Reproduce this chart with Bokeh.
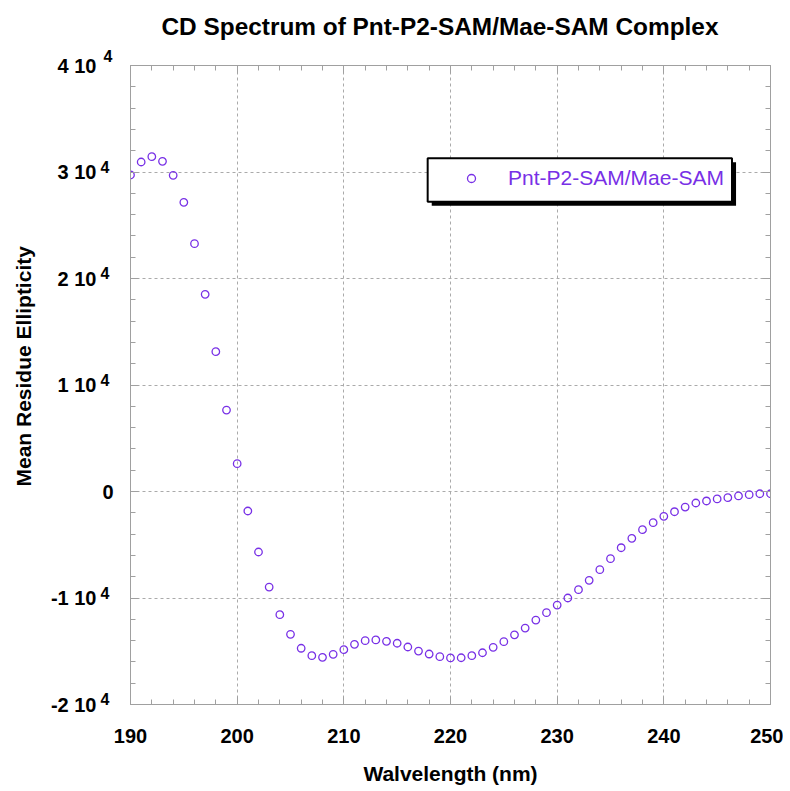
from bokeh.plotting import figure
from bokeh.models import (Range1d, FixedTicker, LinearAxis, CustomJSTickFormatter,
                          BoxAnnotation, Legend, LegendItem, Title)
from bokeh.embed import file_html
from bokeh.resources import INLINE

# ---------------- data ----------------
wavelength = list(range(190, 251))
ellipticity = [
    29720, 30940, 31440, 31000, 29690, 27150, 23270, 18510, 13130, 7650,
    2610, -1830, -5680, -8970, -11570, -13410, -14720, -15420, -15570, -15290,
    -14850, -14350, -14010, -13940, -14070, -14250, -14600, -14980, -15260, -15510,
    -15630, -15610, -15420, -15140, -14630, -14100, -13460, -12820, -12070, -11380,
    -10660, -10000, -9220, -8340, -7340, -6310, -5280, -4400, -3580, -2930,
    -2330, -1900, -1460, -1080, -890, -700, -580, -420, -300, -210,
    -210,
]
x_ticks = [190, 200, 210, 220, 230, 240, 250]
x_minor_ticks = list(range(190, 251, 2))
y_ticks = [-20000, -10000, 0, 10000, 20000, 30000, 40000]
y_minor_ticks = list(range(-20000, 40001, 2000))
y_tick_labels = ["-2 10", "-1 10", "0", "1 10", "2 10", "3 10", "4 10"]
y_tick_exponents = ["4", "4", "", "4", "4", "4", "4"]
title_text = "CD Spectrum of Pnt-P2-SAM/Mae-SAM Complex"
x_label = "Walvelength (nm)"
y_label = "Mean Residue Ellipticity"
series_name = "Pnt-P2-SAM/Mae-SAM"

# ---------------- style ----------------
FONT = "Liberation Sans"
PURPLE = "#7830E6"
AXIS_GRAY = "#a0a0a0"
GRID_GRAY = "#aaaaaa"
Y_MIN, Y_MAX = -20000, 40000
SUP_SHIFT = 470   # ~5 px upward (label-only scale for the exponents)

p = figure(frame_width=640, frame_height=639,
           x_range=Range1d(190, 250), y_range=Range1d(Y_MIN, Y_MAX),
           output_backend="svg", toolbar_location=None,
           min_border_left=129, min_border_right=13,
           min_border_top=65, min_border_bottom=87,
           background_fill_color="white", border_fill_color="white",
           outline_line_color=None)
p.extra_y_ranges = {"sup": Range1d(Y_MIN - SUP_SHIFT, Y_MAX - SUP_SHIFT)}

p.title.text = title_text
p.title.text_font = FONT
p.title.text_font_size = "24.4px"
p.title.text_font_style = "bold"
p.title.align = "left"
p.title.offset = 31
p.title.text_color = "black"
p.title.standoff = 0

xt = FixedTicker(ticks=x_ticks, minor_ticks=x_minor_ticks)
yt = FixedTicker(ticks=y_ticks, minor_ticks=y_minor_ticks)
blank = CustomJSTickFormatter(code="return ''")

def style_axis(ax):
    ax.axis_line_color = AXIS_GRAY
    ax.axis_line_width = 1
    ax.major_tick_line_color = AXIS_GRAY
    ax.minor_tick_line_color = AXIS_GRAY
    ax.major_tick_in = 8
    ax.major_tick_out = 0
    ax.minor_tick_in = 5
    ax.minor_tick_out = 0
    ax.major_label_text_font = FONT
    ax.major_label_text_font_size = "20px"
    ax.major_label_text_font_style = "bold"
    ax.major_label_text_color = "black"
    ax.axis_label_text_font = FONT
    ax.axis_label_text_font_size = "21px"
    ax.axis_label_text_font_style = "bold"
    ax.axis_label_text_color = "black"

def hide_lines(ax):
    ax.axis_line_color = None
    ax.major_tick_line_color = None
    ax.minor_tick_line_color = None
    ax.major_tick_in = 0
    ax.minor_tick_in = 0
    ax.minor_tick_out = 0

xa = p.xaxis[0]
xa.ticker = xt
style_axis(xa)
xa.axis_label = x_label
xa.major_label_standoff = 24
xa.axis_label_standoff = 16

# inner y axis: ticks, line and the plain "0" label
ya = p.yaxis[0]
ya.ticker = yt
style_axis(ya)
ya.major_label_standoff = 17
ya.major_label_overrides = {t: (lab if not ex else "")
                            for t, lab, ex in zip(y_ticks, y_tick_labels, y_tick_exponents)}

# exponent part of "n 10^4" (the top one lies above the frame, see below)
sup_ax = LinearAxis(y_range_name="sup", ticker=yt)
style_axis(sup_ax)
hide_lines(sup_ax)
sup_ax.major_label_text_font_size = "16px"
sup_ax.major_label_standoff = -10
sup_ax.major_label_overrides = {t: ex for t, ex in zip(y_ticks, y_tick_exponents)}
p.add_layout(sup_ax, "left")

# mantissa part "n 10"
man_ax = LinearAxis(ticker=yt)
style_axis(man_ax)
hide_lines(man_ax)
man_ax.major_label_standoff = 1
man_ax.major_label_overrides = {t: (lab if ex else "")
                                for t, lab, ex in zip(y_ticks, y_tick_labels, y_tick_exponents)}
p.add_layout(man_ax, "left")

# y axis title
p.add_layout(Title(text=y_label, align="left", offset=218, vertical_align="top",
                   standoff=22, text_font=FONT, text_font_size="21px",
                   text_font_style="bold", text_color="black"), "left")

top_ax = LinearAxis(ticker=xt, formatter=blank, major_label_standoff=0)
right_ax = LinearAxis(ticker=yt, formatter=blank, major_label_standoff=0)
for ax in (top_ax, right_ax):
    style_axis(ax)
    ax.major_label_text_font_size = "0px"
p.add_layout(top_ax, "above")
p.add_layout(right_ax, "right")

# exponent of the top tick label (sits just above the frame)
p.add_layout(Title(text=y_tick_exponents[-1], align="left", offset=-27,
                   vertical_align="bottom", standoff=8,
                   text_font=FONT, text_font_size="16px",
                   text_font_style="bold", text_color="black"), "above")

# invisible spacer above the frame that lifts the title
spacer = LinearAxis(ticker=xt, formatter=blank, major_label_standoff=0)
hide_lines(spacer)
spacer.major_tick_out = 4
spacer.major_label_text_font_size = "0px"
p.add_layout(spacer, "above")

for g in (p.xgrid[0], p.ygrid[0]):
    g.grid_line_color = GRID_GRAY
    g.grid_line_dash = "3 3"
    g.grid_line_width = 1
p.xgrid[0].ticker = xt
p.ygrid[0].ticker = yt

r = p.scatter(wavelength, ellipticity, marker="circle", size=7.5,
              line_color=PURPLE, line_width=1.3, fill_color=None)

# legend box with drop shadow (decoration)
shadow = BoxAnnotation(left=218.24, right=246.77, top=30910, bottom=26835,
                       fill_color="black", fill_alpha=1.0, line_color=None)
box = BoxAnnotation(left=217.86, right=246.39, top=31286, bottom=27211,
                    fill_color="white", fill_alpha=1.0,
                    line_color="black", line_alpha=1.0, line_width=2)
p.add_layout(shadow)
p.add_layout(box)

legend = Legend(items=[LegendItem(label=series_name, renderers=[r])],
                location=(331, 514), padding=0, margin=0,
                glyph_width=20, glyph_height=20, label_height=20,
                label_standoff=27,
                label_text_font=FONT, label_text_font_size="21px",
                label_text_color=PURPLE,
                background_fill_alpha=0, border_line_color=None)
p.add_layout(legend, "center")

open("out.html", "w").write(file_html(p, INLINE))
